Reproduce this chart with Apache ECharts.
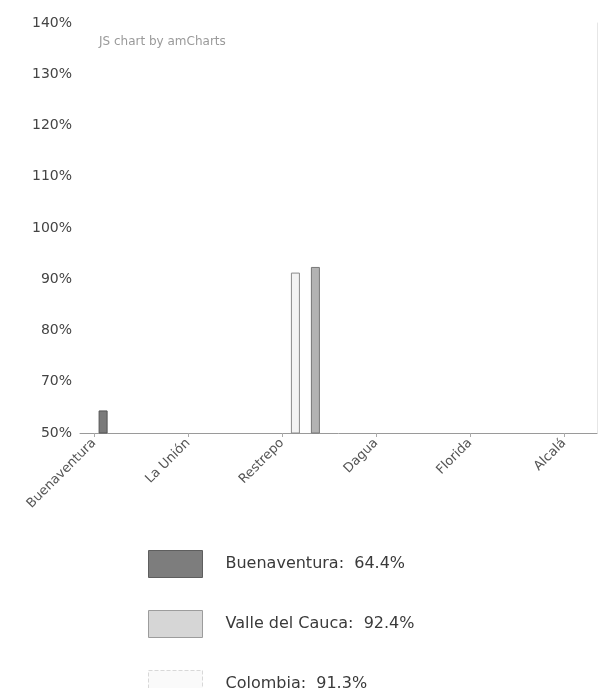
<!DOCTYPE html>
<html><head><meta charset="utf-8">
<script src="https://cdn.jsdelivr.net/npm/echarts@6/dist/echarts.min.js"></script>
<style>html,body{margin:0;padding:0;background:#fff}#c{width:602px;height:688px}</style>
</head><body><div id="c"></div>
<script>
const categories = ['Buenaventura', 'La Unión', 'Restrepo', 'Dagua', 'Florida', 'Alcalá'];
const buenaventura = [64.4, '-', '-', '-', '-', '-'];
const valleDelCauca = ['-', '-', 92.4, '-', '-', '-'];
const colombia = ['-', '-', 91.3, '-', '-', '-'];
const yTickValues = [60, 70, 80, 90, 100, 110, 120, 130, 140];
const yTickLabels = ['50%', '70%', '80%', '90%', '100%', '110%', '120%', '130%', '140%'];
const legendValues = { 'Buenaventura': 64.4, 'Valle del Cauca': 92.4, 'Colombia': 91.3 };

const FONT = 'DejaVu Sans';
const chart = echarts.init(document.getElementById('c'), null, { renderer: 'canvas' });
chart.setOption({
  animation: false,
  backgroundColor: '#fff',
  title: {
    text: 'JS chart by amCharts', left: 94, top: 31,
    textStyle: { fontFamily: FONT, fontSize: 12, fontWeight: 'normal', color: '#9a9a9a' }
  },
  grid: { left: 80, right: 5, top: 23, bottom: 255, containLabel: false },
  xAxis: [
    {
      type: 'category', data: categories, boundaryGap: true,
      axisLine: { show: true, lineStyle: { color: '#9a9a9a', width: 1 } },
      axisTick: { show: false }, axisLabel: { show: false }, splitLine: { show: false }
    },
    {
      type: 'value', position: 'bottom', min: -0.15, max: 5.35,
      axisLine: { show: false },
      axisTick: { show: true, customValues: [0, 1, 2, 3, 4, 5], length: 4, lineStyle: { color: '#aaa' } },
      axisLabel: {
        customValues: [0, 1, 2, 3, 4, 5], rotate: 45, margin: 8,
        formatter: v => categories[Math.round(v)] || '',
        fontFamily: FONT, fontSize: 13, color: '#555'
      },
      splitLine: { show: false }
    }
  ],
  yAxis: [
    {
      type: 'value', min: 60, max: 140, interval: 10,
      axisLine: { show: false }, axisTick: { show: false },
      splitLine: { show: false },
      axisLabel: {
        margin: 8, fontFamily: FONT, fontSize: 14, color: '#444',
        formatter: v => yTickLabels[yTickValues.indexOf(Math.round(v))] || ''
      }
    },
    {
      type: 'value', min: 60, max: 140, position: 'right',
      axisLine: { show: true, lineStyle: { color: '#e6e6e6' } },
      axisTick: { show: false }, axisLabel: { show: false }, splitLine: { show: false }
    }
  ],
  legend: {
    orient: 'vertical', left: 143, top: 545, height: 300,
    itemWidth: 54, itemHeight: 27, itemGap: 32,
    icon: 'rect',
    data: [
      { name: 'Buenaventura', itemStyle: { color: '#7d7d7d', borderColor: '#5e5e5e', borderWidth: 1 } },
      { name: 'Valle del Cauca', itemStyle: { color: '#d6d6d6', borderColor: '#9c9c9c', borderWidth: 1 } },
      { name: 'Colombia', itemStyle: { color: '#fafafa', borderColor: '#d8d8d8', borderWidth: 1, borderType: 'dashed' } }
    ],
    formatter: n => n + ':  ' + legendValues[n] + '%',
    textStyle: { fontFamily: FONT, fontSize: 16, color: '#3a3a3a', padding: [0, 0, 0, 18] }
  },
  series: [
    {
      name: 'Buenaventura', type: 'bar', xAxisIndex: 0, yAxisIndex: 0,
      data: buenaventura, barWidth: 9, barGap: '122%',
      itemStyle: { color: '#7a7a7a', borderColor: '#555', borderWidth: 1 }
    },
    {
      name: 'Colombia', type: 'bar', xAxisIndex: 0, yAxisIndex: 0,
      data: colombia, barWidth: 9, barGap: '122%',
      itemStyle: { color: '#f3f3f3', borderColor: '#8a8a8a', borderWidth: 1 }
    },
    {
      name: 'Valle del Cauca', type: 'bar', xAxisIndex: 0, yAxisIndex: 0,
      data: valleDelCauca, barWidth: 9, barGap: '122%',
      itemStyle: { color: '#b3b3b3', borderColor: '#777', borderWidth: 1 }
    }
  ]
});
</script></body></html>
